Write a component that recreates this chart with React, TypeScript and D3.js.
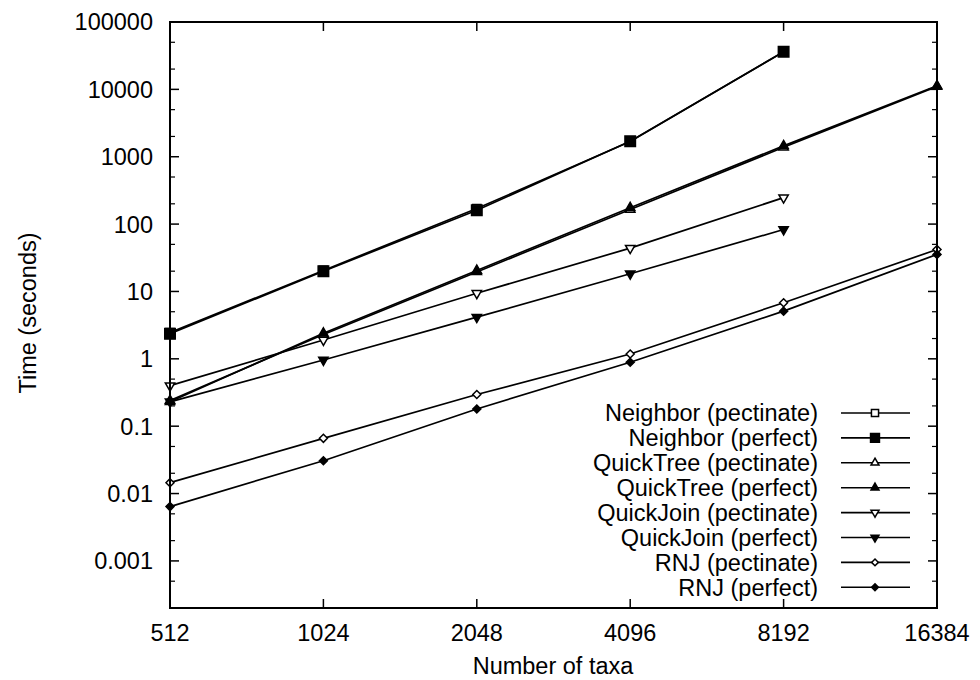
import React from 'react';
import * as d3 from 'd3';

const taxa = [512, 1024, 2048, 4096, 8192, 16384];
const yTicks = [0.001, 0.01, 0.1, 1, 10, 100, 1000, 10000, 100000];
const yTickLabels = ['0.001', '0.01', '0.1', '1', '10', '100', '1000', '10000', '100000'];

const neighborPectinate = [2.45, 20.5, 170, 1680, 36000];
const neighborPerfect = [2.35, 20, 160, 1700, 36200];
const quickTreePectinate = [0.24, 2.3, 19.5, 165, 1380, 11000];
const quickTreePerfect = [0.23, 2.4, 20.5, 175, 1450, 11300];
const quickJoinPectinate = [0.4, 1.9, 9.4, 44, 247];
const quickJoinPerfect = [0.23, 0.96, 4.15, 18.3, 83];
const rnjPectinate = [0.0145, 0.066, 0.295, 1.18, 6.8, 42];
const rnjPerfect = [0.0064, 0.0307, 0.18, 0.89, 5.1, 35.5];

const seriesNames = [
  'Neighbor (pectinate)',
  'Neighbor (perfect)',
  'QuickTree (pectinate)',
  'QuickTree (perfect)',
  'QuickJoin (pectinate)',
  'QuickJoin (perfect)',
  'RNJ (pectinate)',
  'RNJ (perfect)',
];
const seriesValues = [
  neighborPectinate, neighborPerfect, quickTreePectinate, quickTreePerfect,
  quickJoinPectinate, quickJoinPerfect, rnjPectinate, rnjPerfect,
];
// marker shape + filled
const markers: [string, boolean][] = [
  ['square', false], ['square', true], ['up', false], ['up', true],
  ['down', false], ['down', true], ['diamond', false], ['diamond', true],
];

const left = 170, right = 937, top = 22, bottom = 608;
const font = '"Liberation Sans", Arial, Helvetica, sans-serif';
const fs = 23.5;

function Marker({ kind, filled, x, y, s = 1 }: { kind: string; filled: boolean; x: number; y: number; s?: number }) {
  let d = '';
  if (kind === 'square') d = d3.symbol(d3.symbolSquare, (filled ? 110 : 70) * s * s)()!;
  else if (kind === 'up' || kind === 'down') d = d3.symbol(d3.symbolTriangle, 38 * s * s)()!;
  else d = `M0,${-4 * s}L${4 * s},0L0,${4 * s}L${-4 * s},0Z`;
  const rot = kind === 'down' ? 'rotate(180)' : '';
  return (
    <path d={d} transform={`translate(${x},${y}) ${rot}`}
      fill={filled ? '#000' : '#fff'} stroke="#000" strokeWidth={1.5} />
  );
}

export default function App() {
  const x = d3.scaleLog().base(2).domain([512, 16384]).range([left, right]);
  const y = d3.scaleLog().domain([0.0002, 100000]).range([bottom, top]);
  const line = d3.line<number>().x((_, i) => x(taxa[i])).y(d => y(d));

  const minor: number[] = [];
  for (let e = -4; e <= 4; e++) {
    [2, 5].forEach(m => {
      const v = m * Math.pow(10, e);
      if (v > 0.0002 && v < 100000) minor.push(v);
    });
  }

  const legX = 818, legY0 = 413, legDy = 24.9;

  return (
    <svg width={980} height={680} style={{ position: 'absolute', left: 0, top: 0, background: '#fff' }}
      fontFamily={font}>
      <rect x={0} y={0} width={980} height={680} fill="#fff" />
      {/* ticks */}
      {yTicks.map((t, i) => (
        <g key={'yt' + i}>
          <line x1={left} x2={left + 9} y1={y(t)} y2={y(t)} stroke="#000" strokeWidth={1.5} />
          <line x1={right} x2={right - 9} y1={y(t)} y2={y(t)} stroke="#000" strokeWidth={1.5} />
          <text x={153} y={y(t)} dy="0.36em" textAnchor="end" fontSize={fs}>{yTickLabels[i]}</text>
        </g>
      ))}
      {minor.map((t, i) => (
        <g key={'ym' + i}>
          <line x1={left} x2={left + 5} y1={y(t)} y2={y(t)} stroke="#000" strokeWidth={1.2} />
          <line x1={right} x2={right - 5} y1={y(t)} y2={y(t)} stroke="#000" strokeWidth={1.2} />
        </g>
      ))}
      {taxa.map(t => (
        <g key={'xt' + t}>
          <line x1={x(t)} x2={x(t)} y1={bottom} y2={bottom - 9} stroke="#000" strokeWidth={1.5} />
          <line x1={x(t)} x2={x(t)} y1={top} y2={top + 9} stroke="#000" strokeWidth={1.5} />
          <text x={x(t)} y={641} textAnchor="middle" fontSize={fs}>{t}</text>
        </g>
      ))}
      {/* series */}
      {seriesValues.map((vals, si) => (
        <g key={'s' + si}>
          <path d={line(vals)!} fill="none" stroke="#000" strokeWidth={1.7} />
          {vals.map((v, i) => (
            <Marker key={i} kind={markers[si][0]} filled={markers[si][1]} x={x(taxa[i])} y={y(v)} />
          ))}
        </g>
      ))}
      <rect x={left} y={top} width={right - left} height={bottom - top} fill="none" stroke="#000" strokeWidth={2} />
      {/* legend */}
      {seriesNames.map((n, i) => (
        <g key={'l' + i}>
          <text x={legX} y={legY0 + i * legDy} dy="0.36em" textAnchor="end" fontSize={fs}>{n}</text>
          <line x1={841} x2={910} y1={legY0 + i * legDy} y2={legY0 + i * legDy} stroke="#000" strokeWidth={1.6} />
          <Marker kind={markers[i][0]} filled={markers[i][1]} x={875} y={legY0 + i * legDy} s={0.85} />
        </g>
      ))}
      <text x={553} y={674} textAnchor="middle" fontSize={fs}>Number of taxa</text>
      <text transform="translate(36,313) rotate(-90)" textAnchor="middle" fontSize={fs}>Time (seconds)</text>
    </svg>
  );
}
